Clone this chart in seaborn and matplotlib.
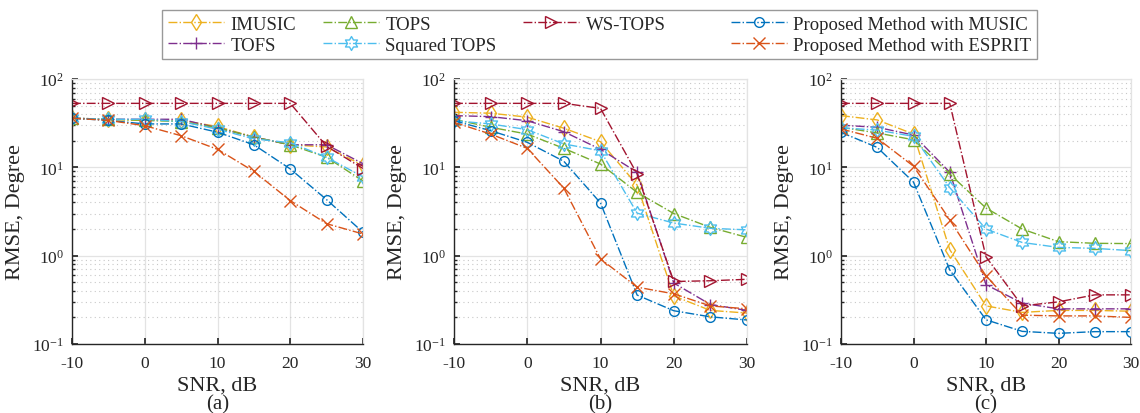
import numpy as np
import pandas as pd
import matplotlib
matplotlib.use("Agg")
import matplotlib.pyplot as plt
import seaborn as sns
from matplotlib.path import Path
from matplotlib.lines import Line2D
from matplotlib.ticker import LogLocator, LogFormatterSciNotation, NullFormatter

# SNR axis
snr = [-10, -5, 0, 5, 10, 15, 20, 25, 30]

methods = ["IMUSIC", "TOFS", "TOPS", "Squared TOPS", "WS-TOPS",
           "Proposed Method with MUSIC", "Proposed Method with ESPRIT"]

# panel (a)
a_imusic = [36, 35, 34, 34, 29, 22, 18, 17, 10.5]
a_tofs = [36, 35, 35, 35, 28, 22, 18, 18, 11]
a_tops = [36, 35, 34, 33, 28, 22, 18, 13, 7]
a_sqtops = [36, 35, 35, 33, 27, 21, 19, 13, 7.8]
a_wstops = [53, 53, 53, 53, 53, 53, 53, 17.3, 9.7]
a_music = [36, 34, 31, 31, 25, 18, 9.6, 4.3, 1.84]
a_esprit = [36, 34, 29.6, 22.8, 16, 9.0, 4.2, 2.3, 1.76]

# panel (b)
b_imusic = [42, 41, 37, 27.7, 19.5, 6.3, 0.35, 0.24, 0.224]
b_tofs = [38.5, 37.5, 33.7, 25.3, 16, 8.8, 0.49, 0.28, 0.24]
b_tops = [35, 28.4, 23.8, 16.4, 10.9, 5.2, 3.0, 2.09, 1.61]
b_sqtops = [33.7, 31, 26.7, 18.4, 15.4, 3.03, 2.34, 2.04, 1.96]
b_wstops = [53, 53, 53, 53, 46.5, 8.4, 0.51, 0.52, 0.54]
b_music = [33.7, 26, 19.2, 11.7, 3.95, 0.358, 0.238, 0.203, 0.187]
b_esprit = [32.3, 23.8, 16.4, 5.8, 0.92, 0.44, 0.37, 0.27, 0.25]

# panel (c)
c_imusic = [38.5, 34.4, 23.8, 1.17, 0.27, 0.228, 0.24, 0.24, 0.235]
c_tofs = [30, 28.4, 23.2, 8.8, 0.47, 0.29, 0.25, 0.25, 0.25]
c_tops = [28.4, 24.5, 20.5, 8.4, 3.46, 2.0, 1.44, 1.38, 1.37]
c_sqtops = [28, 26.4, 22.4, 5.9, 2.0, 1.41, 1.24, 1.21, 1.14]
c_wstops = [53, 53, 53, 53, 0.97, 0.27, 0.30, 0.36, 0.36]
c_music = [24.9, 16.8, 6.8, 0.69, 0.188, 0.139, 0.132, 0.138, 0.138]
c_esprit = [27.2, 21.3, 10.3, 2.55, 0.59, 0.212, 0.208, 0.208, 0.2]

panels = [
    ("(a)", [a_imusic, a_tofs, a_tops, a_sqtops, a_wstops, a_music, a_esprit]),
    ("(b)", [b_imusic, b_tofs, b_tops, b_sqtops, b_wstops, b_music, b_esprit]),
    ("(c)", [c_imusic, c_tofs, c_tops, c_sqtops, c_wstops, c_music, c_esprit]),
]

# six-pointed star marker (MATLAB hexagram)
ang = np.deg2rad(90 + 30 * np.arange(12))
rad = np.where(np.arange(12) % 2 == 0, 1.0, 1 / np.sqrt(3))
verts = np.column_stack([rad * np.cos(ang), rad * np.sin(ang)])
verts = np.vstack([verts, verts[:1]])
hexagram = Path(verts, [Path.MOVETO] + [Path.LINETO] * 11 + [Path.CLOSEPOLY])

colors = ["#EDB120", "#7E2F8E", "#77AC30", "#4DBEEE", "#A2142F", "#0072BD", "#D95319"]
markers = ["d", "+", "^", hexagram, ">", "o", "x"]
msizes = [8, 9, 8, 10, 8, 7, 8]

sns.set_theme(style="white")
plt.rcParams["font.family"] = ["Liberation Serif", "DejaVu Serif"]
plt.rcParams["mathtext.fontset"] = "custom"
plt.rcParams["mathtext.rm"] = "Liberation Serif"
plt.rcParams["mathtext.it"] = "Liberation Serif:italic"
plt.rcParams["axes.unicode_minus"] = False

fig = plt.figure(figsize=(11.4, 4.14), dpi=100)
lefts = [72, 454, 841]
widths = [291, 293, 290]

for (tag, series), left, w in zip(panels, lefts, widths):
    ax = fig.add_axes([left / 1140, 69 / 414, w / 1140, 265 / 414])
    for name, vals, c, m, ms in zip(methods, series, colors, markers, msizes):
        df = pd.DataFrame({"snr": snr, "rmse": vals})
        sns.lineplot(data=df, x="snr", y="rmse", ax=ax, color=c, marker=m,
                     markersize=ms, markerfacecolor="none", markeredgecolor=c,
                     markeredgewidth=1.0, linestyle="-.", linewidth=1.0, label=name,
                     legend=False)
    ax.set_yscale("log")
    ax.set_ylim(0.1, 100)
    ax.set_xlim(-10, 30)
    ax.set_xticks([-10, 0, 10, 20, 30])
    ax.yaxis.set_major_locator(LogLocator(base=10, numticks=10))
    ax.yaxis.set_major_formatter(LogFormatterSciNotation())
    ax.yaxis.set_minor_locator(LogLocator(base=10, subs=np.arange(2, 10), numticks=20))
    ax.yaxis.set_minor_formatter(NullFormatter())
    ax.grid(True, which="major", color="#e3e3e3", linewidth=0.9, linestyle="-")
    ax.grid(True, which="minor", axis="y", color="#c8c8c8", linewidth=0.8,
            linestyle=(0, (1, 3)))
    ax.set_axisbelow(True)
    for s in ["left", "bottom"]:
        ax.spines[s].set_color("#262626")
        ax.spines[s].set_linewidth(1.0)
    for s in ["top", "right"]:
        ax.spines[s].set_color("#e3e3e3")
        ax.spines[s].set_linewidth(0.9)
    ax.tick_params(axis="x", which="major", direction="in", length=4,
                   labelsize=12.5, color="#262626", bottom=True, pad=8)
    ax.tick_params(axis="y", which="major", direction="in", length=4,
                   labelsize=12.5, color="#262626", left=True, pad=6)
    ax.tick_params(axis="y", which="minor", direction="in", length=2,
                   color="#262626", left=True)
    ax.set_xlabel("SNR, dB", fontsize=16, labelpad=3)
    ax.set_ylabel("RMSE, Degree", fontsize=16, labelpad=5)
    fig.text((left + w / 2) / 1140, 1 - 405 / 414, tag, fontsize=15,
             ha="center", va="center")

handles = []
for name, c, m, ms in zip(methods, colors, markers, msizes):
    handles.append(Line2D([], [], color=c, marker=m, markersize=ms,
                          markerfacecolor="none", markeredgecolor=c,
                          linestyle="-.", linewidth=1.0, label=name))
# empty slot so that the proposed methods sit together in the last column
blank = Line2D([], [], linestyle="none", label=" " * 25)
order = [handles[0], handles[1], handles[2], handles[3], handles[4], blank,
         handles[5], handles[6]]
leg = fig.legend(handles=order, labels=[h.get_label() for h in order], ncol=4,
                 loc="center", bbox_to_anchor=(0.526, 0.914), fontsize=13.5,
                 frameon=True, fancybox=False, edgecolor="#808080",
                 handlelength=3.0, columnspacing=1.4, labelspacing=0.22,
                 borderpad=0.3, handletextpad=0.35, borderaxespad=0)
leg.get_frame().set_linewidth(1.0)

fig.savefig("out.png", dpi=100)
